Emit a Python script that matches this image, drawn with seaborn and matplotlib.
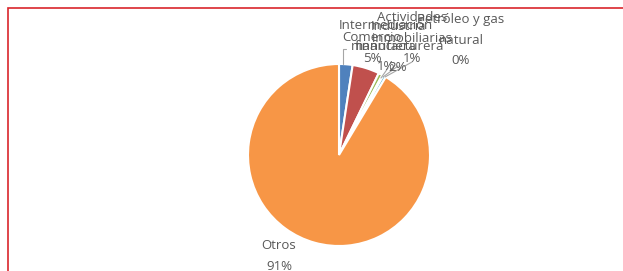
import matplotlib
matplotlib.use("Agg")
import matplotlib.pyplot as plt
import seaborn as sns
from matplotlib.patches import Rectangle

# datos del grafico (porcentaje del total)
sectores = ["Industria\nmanufacturera", "Comercio", "Intermediación\nfinanciera",
            "Petróleo y gas\nnatural", "Actividades\ninmobiliarias", "Otros"]
valores = [2.4, 4.8, 0.7, 0.2, 0.5, 91.4]
etiquetas_pct = ["2%", "5%", "1%", "0%", "1%", "91%"]
colores = ["#4F81BD", "#C0504D", "#9BBB59", "#8064A2", "#4BACC6", "#F79646"]

# posiciones de las etiquetas (centro x, borde superior y; pixeles desde arriba)
pos_etiquetas = [(398, 20), (372, 31), (386, 19), (461, 13), (412, 11), (279, 239)]

sns.set_theme(style="white")
plt.rcParams["font.family"] = ["Open Sans", "DejaVu Sans"]

W, H = 623, 271
fig = plt.figure(figsize=(W / 100, H / 100), dpi=100)
ax = fig.add_axes([0, 0, 1, 1])

cx, cy, r = 339, 155, 91
ax.pie(valores, colors=colores, startangle=90, counterclock=False,
       center=(cx, H - cy), radius=r,
       wedgeprops=dict(edgecolor="white", linewidth=1.5))
ax.set_xlim(0, W)
ax.set_ylim(0, H)
ax.set_aspect("equal")
ax.axis("off")

gris = "#595959"
for nombre, pct, (x, y) in zip(sectores, etiquetas_pct, pos_etiquetas):
    ax.text(x, H - y, f"{nombre}\n{pct}", ha="center", va="top",
            fontsize=9.5, color=gris, linespacing=1.75)

# lineas guia
guias = [[(343, 64), (343, 49), (346, 49)], [(381, 78), (388, 68)],
         [(383, 77), (398, 66)], [(385, 77), (412, 62)]]
for seg in guias:
    xs = [p[0] for p in seg]
    ys = [H - p[1] for p in seg]
    ax.plot(xs, ys, color="#A6A6A6", lw=0.8)

# marco rojo
fig.patches.append(Rectangle((8 / W, -0.1), 1.2, (H - 8) / H + 0.1, transform=fig.transFigure,
                             fill=False, edgecolor="#D9262C", lw=1.2))

fig.savefig("out.png", dpi=100)
